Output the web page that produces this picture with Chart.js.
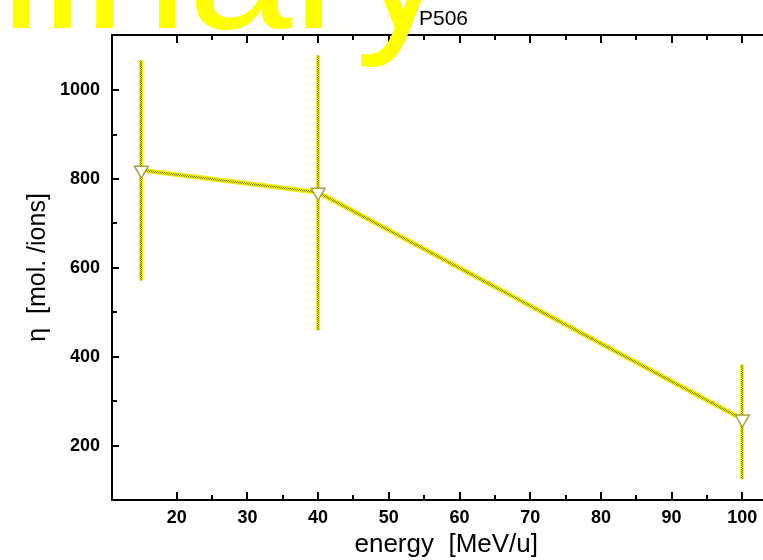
<!DOCTYPE html>
<html>
<head>
<meta charset="utf-8">
<script src="https://cdn.jsdelivr.net/npm/chart.js@4"></script>
<style>
  html, body { margin: 0; padding: 0; background: #fff; overflow: hidden; }
  #wrap { width: 763px; height: 560px; overflow: hidden; position: relative; }
  canvas { display: block; }
</style>
</head>
<body>
<div id="wrap"><canvas id="c" width="790" height="560"></canvas></div>
<script>
// Measured yield eta versus beam energy, with vertical error bars
const energy   = [15, 40, 100];
const eta      = [820, 770, 260];
const etaLow   = [572, 460, 125];
const etaHigh  = [1067, 1078, 382];

const xTitle = 'energy  [MeV/u]';
const yTitle = 'η  [mol. /ions]';
const runLabel = 'P506';
const stamp = 'Preliminary';

const points = energy.map((e, i) => ({ x: e, y: eta[i] }));

// dithered yellow/olive texture used for the line and error bars
function ditherPattern() {
  const c = document.createElement('canvas');
  c.width = 2; c.height = 2;
  const g = c.getContext('2d');
  g.fillStyle = '#f2ee00';
  g.fillRect(0, 0, 2, 2);
  g.fillStyle = '#767000';
  g.fillRect(0, 0, 1, 1);
  g.fillRect(1, 1, 1, 1);
  return g.createPattern(c, 'repeat');
}
const ctxMain = document.getElementById('c').getContext('2d');
const dither = ditherPattern();

const tickFont = { family: "'Liberation Sans Narrow', 'Liberation Sans', Arial, sans-serif", size: 18, weight: 'bold' };

// error bars, drawn beneath the line and markers
const errorBars = {
  id: 'errorBars',
  beforeDatasetsDraw(chart) {
    const { ctx, scales: { x, y } } = chart;
    ctx.save();
    energy.forEach((e, i) => {
      const px = Math.round(x.getPixelForValue(e));
      const y0 = y.getPixelForValue(etaLow[i]);
      const y1 = y.getPixelForValue(etaHigh[i]);
      ctx.lineCap = 'butt';
      ctx.strokeStyle = '#f2ee00';
      ctx.lineWidth = 4;
      ctx.beginPath(); ctx.moveTo(px, y0); ctx.lineTo(px, y1); ctx.stroke();
      ctx.strokeStyle = dither;
      ctx.lineWidth = 2;
      ctx.beginPath(); ctx.moveTo(px, y0); ctx.lineTo(px, y1); ctx.stroke();
    });
    ctx.restore();
  }
};

// frame lines with inward tick marks (left, bottom, top)
const frame = {
  id: 'frame',
  afterDraw(chart) {
    const { ctx, chartArea: a, scales: { x, y } } = chart;
    ctx.save();
    ctx.strokeStyle = '#000';
    ctx.lineWidth = 2;
    ctx.beginPath();
    ctx.moveTo(a.right, a.top); ctx.lineTo(a.left, a.top);
    ctx.lineTo(a.left, a.bottom); ctx.lineTo(a.right, a.bottom);
    ctx.stroke();
    x.ticks.forEach(t => {
      if (Math.abs(t.value % 5) > 1e-6) return;
      const major = Math.abs(t.value % 10) < 1e-6;
      const len = major ? 8 : 5;
      const px = Math.round(x.getPixelForValue(t.value));
      ctx.beginPath(); ctx.moveTo(px, a.bottom); ctx.lineTo(px, a.bottom - len); ctx.stroke();
      ctx.beginPath(); ctx.moveTo(px, a.top); ctx.lineTo(px, a.top + len); ctx.stroke();
    });
    y.ticks.forEach(t => {
      if (Math.abs(t.value % 100) > 1e-6) return;
      const major = Math.abs(t.value % 200) < 1e-6;
      const len = major ? 7 : 5;
      const py = Math.round(y.getPixelForValue(t.value));
      ctx.beginPath(); ctx.moveTo(a.left, py); ctx.lineTo(a.left + len, py); ctx.stroke();
    });
    ctx.restore();
  }
};

// run label and the yellow stamp across the top
const overlay = {
  id: 'overlay',
  afterDraw(chart) {
    const { ctx } = chart;
    ctx.save();
    ctx.fillStyle = '#000';
    ctx.font = "21px 'Liberation Sans', Arial, sans-serif";
    ctx.textAlign = 'left';
    ctx.textBaseline = 'alphabetic';
    ctx.fillText(runLabel, 419, 25);
    ctx.fillStyle = '#ffff00';
    ctx.font = "188px 'Liberation Sans', Arial, sans-serif";
    ctx.textAlign = 'right';
    ctx.fillText(stamp, 449, 28);
    ctx.restore();
  }
};

new Chart(ctxMain, {
  type: 'line',
  data: {
    datasets: [
      {
        data: points,
        order: 3,
        borderColor: '#f2ee00',
        borderWidth: 5,
        pointRadius: 0,
        tension: 0
      },
      {
        data: points,
        order: 2,
        borderColor: dither,
        borderWidth: 2,
        pointRadius: 0,
        tension: 0
      },
      {
        data: points,
        order: 1,
        showLine: false,
        pointStyle: 'triangle',
        rotation: 180,
        pointRadius: 8,
        pointBackgroundColor: '#ffffff',
        pointBorderColor: '#a8a040',
        pointBorderWidth: 1.5
      }
    ]
  },
  options: {
    responsive: false,
    animation: false,
    devicePixelRatio: 1,
    layout: { padding: { top: 35, right: 6, left: 0, bottom: 0 } },
    plugins: { legend: { display: false }, title: { display: false }, tooltip: { enabled: false } },
    scales: {
      x: {
        type: 'linear',
        min: 10.85,
        max: 105.4,
        border: { display: false },
        grid: { display: false, drawTicks: false },
        ticks: {
          stepSize: 5,
          autoSkip: false,
          maxRotation: 0,
          padding: 7,
          color: '#000',
          font: tickFont,
          callback: v => (Math.abs(v % 10) < 1e-6 ? String(v) : '')
        },
        title: {
          display: true,
          text: xTitle,
          color: '#000',
          font: { family: "'Liberation Sans', Arial, sans-serif", size: 26 },
          padding: { top: 0, bottom: 0 }
        },
        afterFit(s) { s.height = 60; }
      },
      y: {
        type: 'linear',
        min: 78,
        max: 1124,
        border: { display: false },
        grid: { display: false, drawTicks: false },
        ticks: {
          stepSize: 100,
          autoSkip: false,
          padding: 12,
          color: '#000',
          font: tickFont,
          callback: v => (Math.abs(v % 200) < 1e-6 ? String(v) : '')
        },
        title: {
          display: true,
          text: yTitle,
          color: '#000',
          font: { family: "'Liberation Sans', Arial, sans-serif", size: 25 },
          padding: { top: 23, bottom: 0 }
        },
        afterFit(s) { s.width = 112; }
      }
    }
  },
  plugins: [errorBars, frame, overlay]
});
</script>
</body>
</html>
